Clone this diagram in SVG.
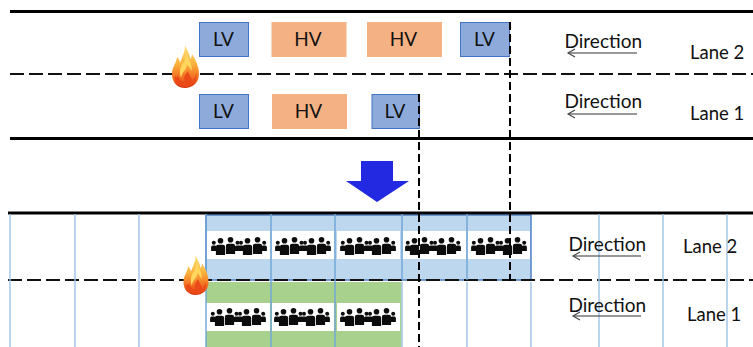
<svg xmlns="http://www.w3.org/2000/svg" xmlns:xlink="http://www.w3.org/1999/xlink" width="753" height="347" viewBox="0 0 753 347">
<style>
text{font-family:"Lato","Liberation Sans",sans-serif;font-size:19px;fill:#111}
.c{text-anchor:middle}
.lane{font-size:18.500px}
.lv{fill:#8eaadb;stroke:#4472c4;stroke-width:1}
.hv{fill:#f4b183}
.solid{stroke:#000;stroke-width:3;fill:none}
.dash{stroke:#111;stroke-width:2;stroke-dasharray:14 5;fill:none}
.vd{stroke:#000;stroke-width:2;stroke-dasharray:8 4;fill:none}
.grid{stroke:#9dc3e6;stroke-width:1.400;fill:none}
.grid2{stroke:#6fa5d8;stroke-width:1.400;fill:none}
.w{fill:#fff}
.dir{stroke:#333;stroke-width:1.200;fill:none}
</style>
<defs>
<linearGradient id="fl" x1="0" y1="0" x2="0" y2="1">
<stop offset="0" stop-color="#ffe680"/><stop offset="0.45" stop-color="#fbb03b"/><stop offset="0.8" stop-color="#f0641e"/><stop offset="1" stop-color="#d8300f"/>
</linearGradient>
<symbol id="flame" viewBox="0 0 27 43" overflow="visible">
<path fill="url(#fl)" d="M13 0C15 6 18 8 18 14C20 12 20 10 20 9C24 15 27 22 27 29C27 38 20 43 13 43C5 43 0 37 0 29C0 22 4 19 5 12C7 14 8 16 8 18C10 12 13 7 13 0Z"/>
<path fill="#ffd75e" d="M14 8C16 14 20 18 20 26C18 22 16 21 15 19C15 25 10 26 9 33C7 27 8 21 12 17C13 14 14 12 14 8Z"/>
<path fill="#ea4a17" d="M6 30C7 35 10 37 13 37C11 33 13 29 16 26C17 31 20 32 20 36C23 33 25 30 24 26C26 33 22 42 13 42C7 42 2 37 3 31C4 33 5 33 6 30Z"/>
</symbol>
<g id="person">
<circle cx="0" cy="2.800" r="2.800"/>
<path d="M-4.600 17V9Q-4.600 6.800 -2.400 6.800H2.400Q4.600 6.800 4.600 9V17Z"/>
</g>
<g id="small">
<circle cx="0" cy="5.800" r="2"/>
<path d="M-2.700 14V10.300Q-2.700 8.600 -1.200 8.600H1.200Q2.700 8.600 2.700 10.300V14Z"/>
</g>
<symbol id="crowd" viewBox="0 0 56 18" overflow="visible">
<g fill="#0c0c0c">
<use xlink:href="#small" x="2.800"/><use xlink:href="#small" x="26.500"/><use xlink:href="#small" x="30"/><use xlink:href="#small" x="53.200"/>
<use xlink:href="#person" x="9.500" y="1"/><use xlink:href="#person" x="19.500" y="0"/><use xlink:href="#person" x="36.500" y="1"/><use xlink:href="#person" x="46.500" y="0"/>
</g>
</symbol>
<marker id="open" markerWidth="9" markerHeight="10" refX="8" refY="4.500" orient="auto" markerUnits="userSpaceOnUse" overflow="visible">
<path d="M1 0.500L8 4.500L1 8.500" fill="none" stroke="#444" stroke-width="1.100"/>
</marker>
</defs>

<g id="bottom-fills">
<rect x="206" y="282" width="195.500" height="65" fill="#a9d18e"/>
<rect x="206" y="215" width="325" height="65" fill="#bdd7ee" stroke="#4f81c7" stroke-width="1.500"/>
<rect class="w" x="207" y="231" width="63" height="28"/><rect class="w" x="272" y="231" width="62" height="28"/><rect class="w" x="337" y="231" width="63" height="28"/><rect class="w" x="403" y="231" width="63" height="28"/><rect class="w" x="468" y="231" width="62" height="28"/>
<rect class="w" x="206" y="303" width="64" height="28"/><rect class="w" x="272" y="303" width="62" height="28"/><rect class="w" x="337" y="303" width="63" height="28"/>
</g>
<g id="crowds">
<use xlink:href="#crowd" x="211" y="237" width="56" height="18"/><use xlink:href="#crowd" x="275" y="237" width="56" height="18"/><use xlink:href="#crowd" x="340" y="237" width="56" height="18"/><use xlink:href="#crowd" x="405" y="237" width="56" height="18"/><use xlink:href="#crowd" x="471" y="237" width="56" height="18"/>
<use xlink:href="#crowd" x="210" y="308" width="56" height="18"/><use xlink:href="#crowd" x="274" y="308" width="56" height="18"/><use xlink:href="#crowd" x="340" y="308" width="56" height="18"/>
</g>

<g id="connectors">
<path class="solid" d="M10 11.500H753M10 138.500H753M8 213H753"/>
<path class="dash" d="M10 74H753M8 280H753"/>
<path class="grid" d="M10 214V347M75 214V347M139 214V347M402 282V347M467 282V347M531 282V347M599 214V347M663 214V347M727 214V347"/>
<path class="grid2" d="M206 214V347M271 214V347M335 214V347M402 214V280M467 214V280"/>
<path class="vd" d="M510 22V281M419 94V347"/>
<path class="dir" marker-end="url(#open)" d="M637 53H568"/>
<path class="dir" marker-end="url(#open)" d="M637 114H568"/>
<path class="dir" marker-end="url(#open)" d="M641 256H573"/>
<path class="dir" marker-end="url(#open)" d="M641 316H573"/>
</g>

<g id="lv1"><rect class="lv" x="199.500" y="22.500" width="49" height="34"/><text class="c" x="223.500" y="45.500">LV</text></g>
<g id="hv1"><rect class="hv" x="271.500" y="22" width="75" height="35"/><text class="c" x="308" y="45.500">HV</text></g>
<g id="hv2"><rect class="hv" x="367" y="22" width="75" height="35"/><text class="c" x="403.500" y="45.500">HV</text></g>
<g id="lv2"><rect class="lv" x="460.500" y="22.500" width="49" height="34"/><text class="c" x="484.500" y="45.500">LV</text></g>
<g id="lv3"><rect class="lv" x="199.500" y="94.500" width="49" height="34"/><text class="c" x="223.500" y="117.500">LV</text></g>
<g id="hv3"><rect class="hv" x="272" y="94" width="75" height="35"/><text class="c" x="308.500" y="117.500">HV</text></g>
<g id="lv4"><rect class="lv" x="372" y="94.500" width="47.500" height="34"/><text class="c" x="395" y="117.500">LV</text></g>

<path d="M510 22V57M419 94V129" class="vd"/>

<g id="fire1"><use xlink:href="#flame" x="172" y="45" width="27" height="43"/></g>
<g id="fire2"><use xlink:href="#flame" x="183" y="255" width="26" height="40"/></g>

<g id="down-arrow"><path fill="#2229e0" d="M361 161H393V181H409L377 202L346 181H361Z"/></g>

<g id="labels">
<text x="564.500" y="47.500">Direction</text>
<text x="564.500" y="107.500">Direction</text>
<text class="lane" x="690" y="58.500">Lane 2</text>
<text class="lane" x="690" y="119.500">Lane 1</text>
<text x="568.500" y="250.500">Direction</text>
<text x="568.500" y="311.500">Direction</text>
<text class="lane" x="683" y="252.500">Lane 2</text>
<text class="lane" x="687" y="320.500">Lane 1</text>
</g>
</svg>
